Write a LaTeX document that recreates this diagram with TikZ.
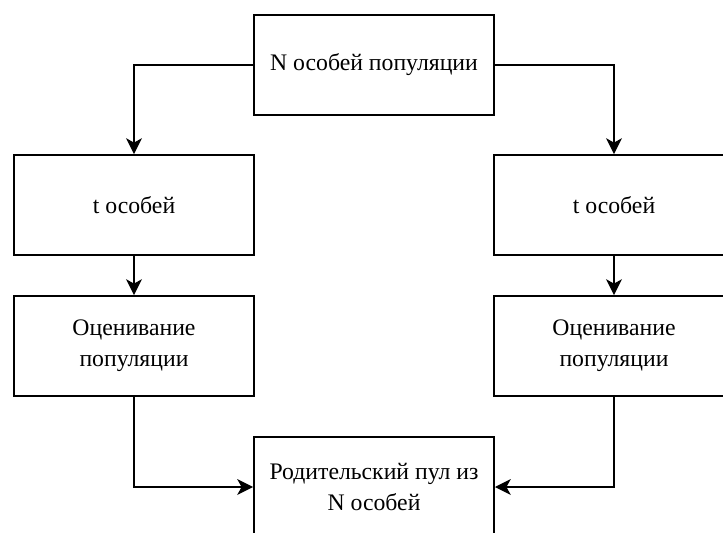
\documentclass[tikz,border=0pt]{standalone}
\usepackage{fontspec}
\setmainfont{Liberation Serif}
\usetikzlibrary{arrows.meta}

\tikzset{
  block/.style={draw, line width=1.1pt, minimum width=4.8cm, minimum height=2cm,
    align=center, font=\fontsize{13.5}{17.5}\selectfont},
  link/.style={line width=0.9pt, -{Stealth[length=9pt,width=9pt,inset=2.5pt]}}
}

\begin{document}
\begin{tikzpicture}
  \useasboundingbox (0,0) rectangle (14.46,-10.64);
  \clip (0,0) rectangle (14.46,-10.64);
  \node[block] (pop) at (7.48,-1.30) {N особей популяции};
  \node[block] (selleft) at (2.68,-4.10) {t особей};
  \node[block] (selright) at (12.28,-4.10) {t особей};
  \node[block] (evalleft) at (2.68,-6.92) {Оценивание\\популяции};
  \node[block] (evalright) at (12.28,-6.92) {Оценивание\\популяции};
  \node[block] (pool) at (7.48,-9.74) {Родительский пул из\\N особей};

  \draw[link] (pop.west) -| (selleft.north);
  \draw[link] (pop.east) -| (selright.north);
  \draw[link] (selleft) -- (evalleft);
  \draw[link] (selright) -- (evalright);
  \draw[link] (evalleft.south) |- (pool.west);
  \draw[link] (evalright.south) |- (pool.east);
\end{tikzpicture}
\end{document}
